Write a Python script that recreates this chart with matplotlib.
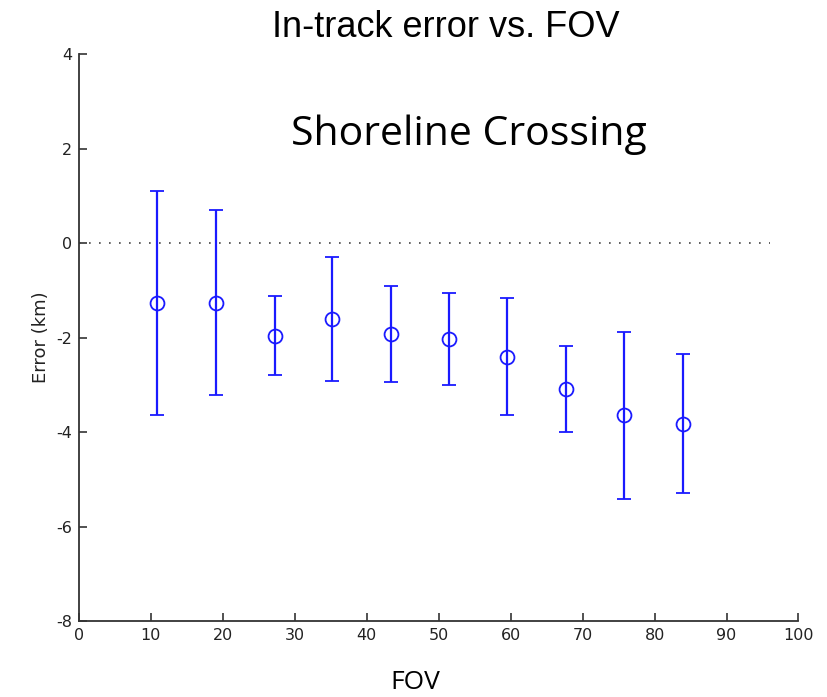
import matplotlib
matplotlib.use("Agg")
import matplotlib.pyplot as plt

plt.rcParams["axes.unicode_minus"] = False

# in-track error per field of view bin
fov = [10.8, 19.05, 27.2, 35.2, 43.4, 51.4, 59.5, 67.7, 75.8, 83.9]
err_mean = [-1.26, -1.26, -1.96, -1.61, -1.93, -2.03, -2.41, -3.09, -3.65, -3.82]
err_std = [2.37, 1.96, 0.83, 1.31, 1.01, 0.97, 1.24, 0.91, 1.76, 1.48]

fig = plt.figure(figsize=(8.27, 6.97), dpi=100)
ax = fig.add_axes([0.0955, 0.109, 0.87, 0.8135])

ax.plot([0, 96], [0, 0], linestyle=(0, (1, 5)), color="#444444", linewidth=1.2)
ax.errorbar(fov, err_mean, yerr=err_std, fmt="o", color="#1a1aff",
            markerfacecolor="none", markersize=10, markeredgewidth=1.3,
            elinewidth=1.6, capsize=4.8, capthick=1.6)

ax.set_xlim(0, 100)
ax.set_ylim(-8, 4)
ax.set_xticks(range(0, 101, 10))
ax.set_yticks(range(-8, 5, 2))
ax.spines["top"].set_visible(False)
ax.spines["right"].set_visible(False)
for s in ("left", "bottom"):
    ax.spines[s].set_color("#333333")
    ax.spines[s].set_linewidth(1.3)
ax.tick_params(direction="in", length=6, width=1.2, colors="#333333",
               labelsize=11.5, pad=5)
for lbl in ax.get_xticklabels() + ax.get_yticklabels():
    lbl.set_color("#222222")

ax.set_ylabel("Error (km)", fontsize=13, color="#222222", labelpad=4)

fig.text(0.539, 0.961, "In-track error vs. FOV", ha="center", va="center",
         fontsize=26, family="Liberation Sans")
fig.text(0.567, 0.806, "Shoreline Crossing", ha="center", va="center",
         fontsize=29.5, family="Open Sans")
fig.text(0.502, 0.021, "FOV", ha="center", va="center",
         fontsize=19, family="Open Sans")

fig.savefig("out.png", dpi=100)
